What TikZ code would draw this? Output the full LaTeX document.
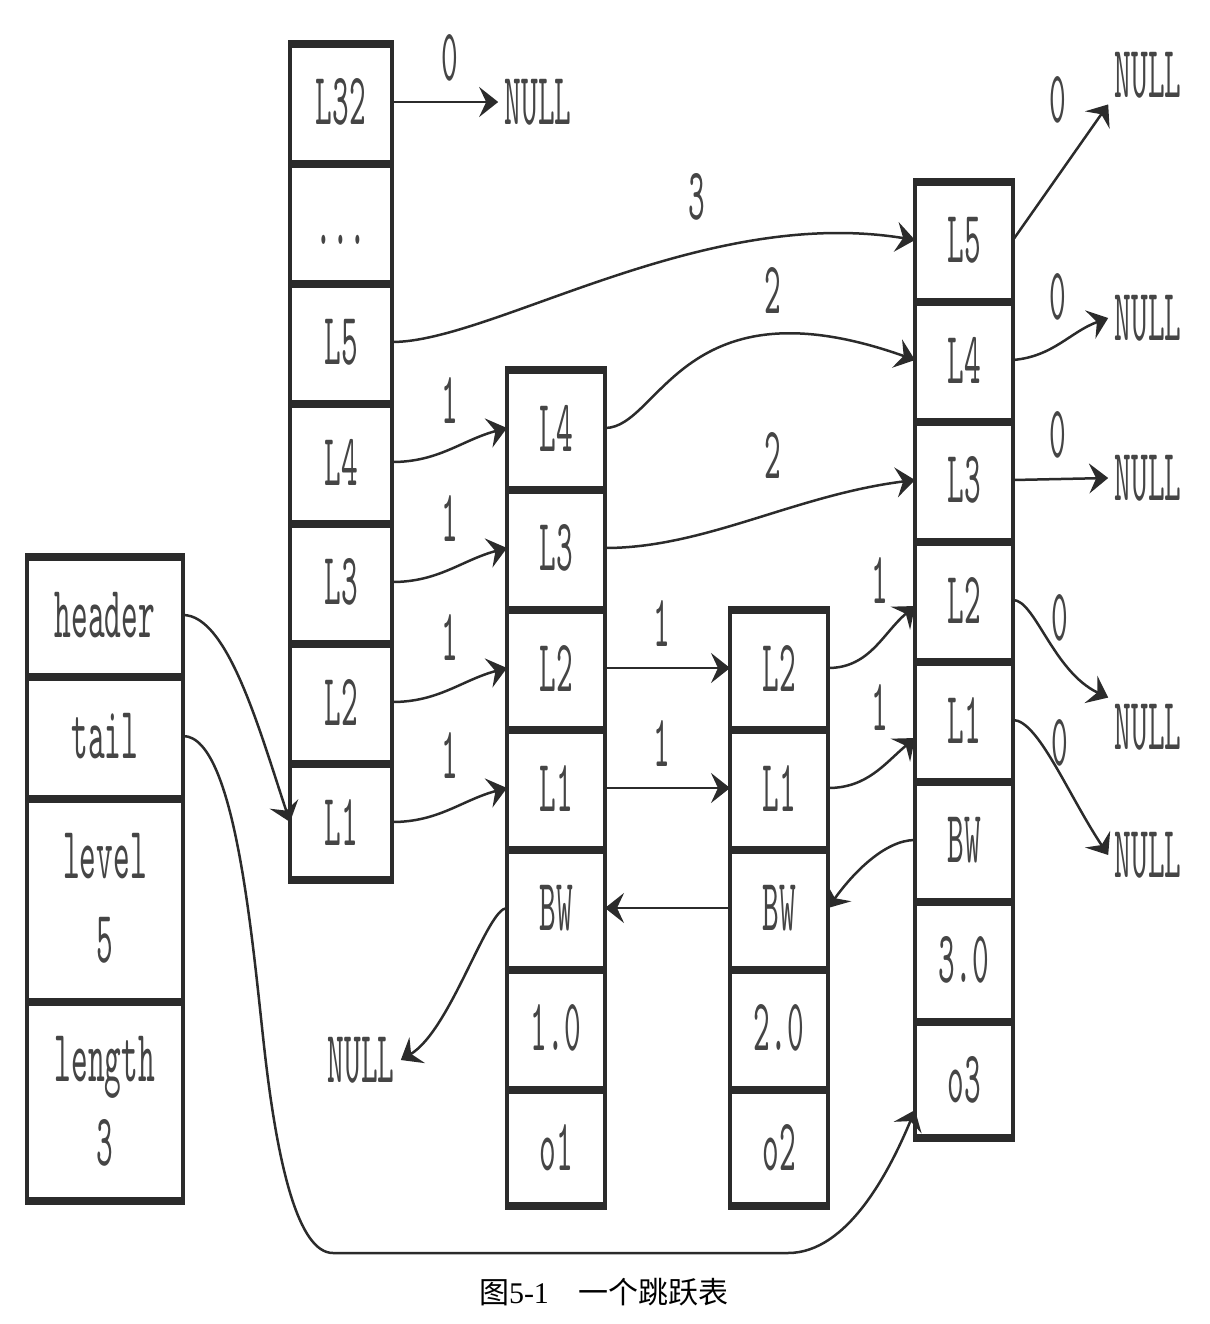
\documentclass[tikz,border=0pt]{standalone}
\usepackage{fontspec}
\usepackage{xcolor}
\usepackage{tikz}
\usetikzlibrary{arrows.meta}
\newfontfamily\codefont[FakeStretch=0.43]{lmmono10-regular.otf}
\newfontfamily\cjkfont{Noto Sans CJK SC}
\newfontfamily\capfont{Liberation Serif}
\definecolor{ink}{HTML}{2B2B2B}
\definecolor{type}{HTML}{454545}

\begin{document}
\begin{tikzpicture}[
  x=0.5pt, y=0.5pt,
  cell/.style={draw=ink, line width=2.3pt, minimum width=49pt, minimum height=60pt, inner sep=0pt, outer sep=0pt, align=center, text=type, font=\codefont\fontsize{37}{42}\selectfont,
    path picture={\draw[ink, line width=6pt] (path picture bounding box.north west) -- (path picture bounding box.north east);}},
  last/.style={path picture={\draw[ink, line width=6pt] (path picture bounding box.north west) -- (path picture bounding box.north east) (path picture bounding box.south west) -- (path picture bounding box.south east);}},
  word/.style={inner sep=3pt, text=type, font=\codefont\fontsize{37}{42}\selectfont},
  link/.style={draw=ink, line width=1.25pt, -{Stealth[length=9.5pt, width=15pt, inset=3.5pt]}}
]
  \useasboundingbox (0,0) rectangle (1210,-1324);

  % zskiplist
  \node[cell, minimum width=78pt, minimum height=60pt] (aHead) at (105,-615) {header};
  \node[cell, minimum width=78pt, minimum height=61pt] (aTail) at (105,-736) {tail};
  \node[cell, minimum width=78pt, minimum height=101.5pt] (aLevel) at (105,-898.5) {level\\5};
  \node[cell, last, minimum width=78pt, minimum height=101.5pt] (aLength) at (105,-1101.5) {length\\3};

  % header node
  \node[cell, minimum width=51pt] (bL32) at (341,-102) {L32};
  \node[cell, minimum width=51pt] (bDots) at (341,-222) {\vphantom{L}...};
  \node[cell, minimum width=51pt] (bL5) at (341,-342) {L5};
  \node[cell, minimum width=51pt] (bL4) at (341,-462) {L4};
  \node[cell, minimum width=51pt] (bL3) at (341,-582) {L3};
  \node[cell, minimum width=51pt] (bL2) at (341,-702) {L2};
  \node[cell, last, minimum width=51pt] (bL1) at (341,-822) {L1};

  % node o1
  \node[cell] (cL4) at (556,-428) {L4};
  \node[cell] (cL3) at (556,-548) {L3};
  \node[cell] (cL2) at (556,-668) {L2};
  \node[cell] (cL1) at (556,-788) {L1};
  \node[cell] (cBW) at (556,-908) {BW};
  \node[cell] (cScore) at (556,-1028) {1.0};
  \node[cell, last] (cObj) at (556,-1148) {o1};

  % node o2
  \node[cell] (dL2) at (779,-668) {L2};
  \node[cell] (dL1) at (779,-788) {L1};
  \node[cell] (dBW) at (779,-908) {BW};
  \node[cell] (dScore) at (779,-1028) {2.0};
  \node[cell, last] (dObj) at (779,-1148) {o2};

  % node o3
  \node[cell] (eL5) at (964,-240) {L5};
  \node[cell] (eL4) at (964,-360) {L4};
  \node[cell] (eL3) at (964,-480) {L3};
  \node[cell] (eL2) at (964,-600) {L2};
  \node[cell] (eL1) at (964,-720) {L1};
  \node[cell] (eBW) at (964,-840) {BW};
  \node[cell] (eScore) at (964,-960) {3.0};
  \node[cell, last] (eObj) at (964,-1080) {o3};

  % NULL ends
  \node[word] (nullTop) at (538,-102) {NULL};
  \node[word] (nullR5) at (1148,-75) {NULL};
  \node[word] (nullR4) at (1148,-318) {NULL};
  \node[word] (nullR3) at (1148,-478) {NULL};
  \node[word] (nullR2) at (1148,-727) {NULL};
  \node[word] (nullR1) at (1148,-855) {NULL};
  \node[word] (nullBW) at (361,-1060) {NULL};

  % spans
  \node[word] (span32) at (450,-58) {0};
  \node[word] (span5) at (697,-197) {3};
  \node[word] (span4) at (773,-290) {2};
  \node[word] (span3) at (773,-455) {2};
  \node[word] (spanB4) at (450,-400) {1};
  \node[word] (spanB3) at (450,-518) {1};
  \node[word] (spanB2) at (450,-637) {1};
  \node[word] (spanB1) at (450,-755) {1};
  \node[word] (spanC2) at (662,-623) {1};
  \node[word] (spanC1) at (662,-743) {1};
  \node[word] (spanD2) at (880,-580) {1};
  \node[word] (spanD1) at (880,-707) {1};
  \node[word] (spanE5) at (1058,-100) {0};
  \node[word] (spanE4) at (1058,-297) {0};
  \node[word] (spanE3) at (1058,-435) {0};
  \node[word] (spanE2) at (1060,-618) {0};
  \node[word] (spanE1) at (1060,-743) {0};

  % forward pointers
  \draw[link] (bL32.east) -- (nullTop.west);
  \draw[link] (bL5.east) .. controls +(100,0) and +(-213,35) .. (eL5.west);
  \draw[link] (bL4.east) to[out=0, in=195] (cL4.west);
  \draw[link] (bL3.east) to[out=0, in=195] (cL3.west);
  \draw[link] (bL2.east) to[out=0, in=195] (cL2.west);
  \draw[link] (bL1.east) to[out=0, in=195] (cL1.west);
  \draw[link] (cL4.east) .. controls +(55,0) and +(-233,83) .. (eL4.west);
  \draw[link] (cL3.east) .. controls +(100,0) and +(-120,-15) .. (eL3.west);
  \draw[link] (cL2.east) -- (dL2.west);
  \draw[link] (cL1.east) -- (dL1.west);
  \draw[link] (dL2.east) to[out=0, in=220] ([yshift=-3pt]eL2.west);
  \draw[link] (dL1.east) to[out=0, in=220] ([yshift=-9pt]eL1.west);
  \draw[link] (eL5.east) -- (nullR5.south west);
  \draw[link] (eL4.east) to[out=5, in=200] (nullR4.west);
  \draw[link] (eL3.east) -- (nullR3.west);
  \draw[link] (eL2.east) .. controls +(22,0) and +(-55,26) .. (nullR2.north west);
  \draw[link] (eL1.east) .. controls +(25,0) and +(-40,60) .. (nullR1.west);

  % backward pointers
  \draw[link] (eBW.west) .. controls +(-30,0) and +(25,35) .. (dBW.east);
  \draw[link] (dBW.west) -- (cBW.east);
  \draw[link] (cBW.west) .. controls +(-20,0) and +(50,30) .. (nullBW.east);

  % header and tail
  \draw[link] (aHead.east) .. controls +(45,0) and +(-30,90) .. (bL1.west);
  \draw[link] (aTail.east) .. controls +(55,0) and +(-12,100) .. ++(83,-327) .. controls +(12,-100) and +(-35,0) .. ++(67,-190) -- ++(455,0) .. controls +(60,0) and +(-25,-60) .. ([yshift=-15pt]eObj.west);

  \node[font=\fontsize{15}{18}\selectfont] (caption) at (604,-1292) {{\cjkfont 图}{\capfont 5-1}\quad{\cjkfont 一个跳跃表}};
\end{tikzpicture}
\end{document}
